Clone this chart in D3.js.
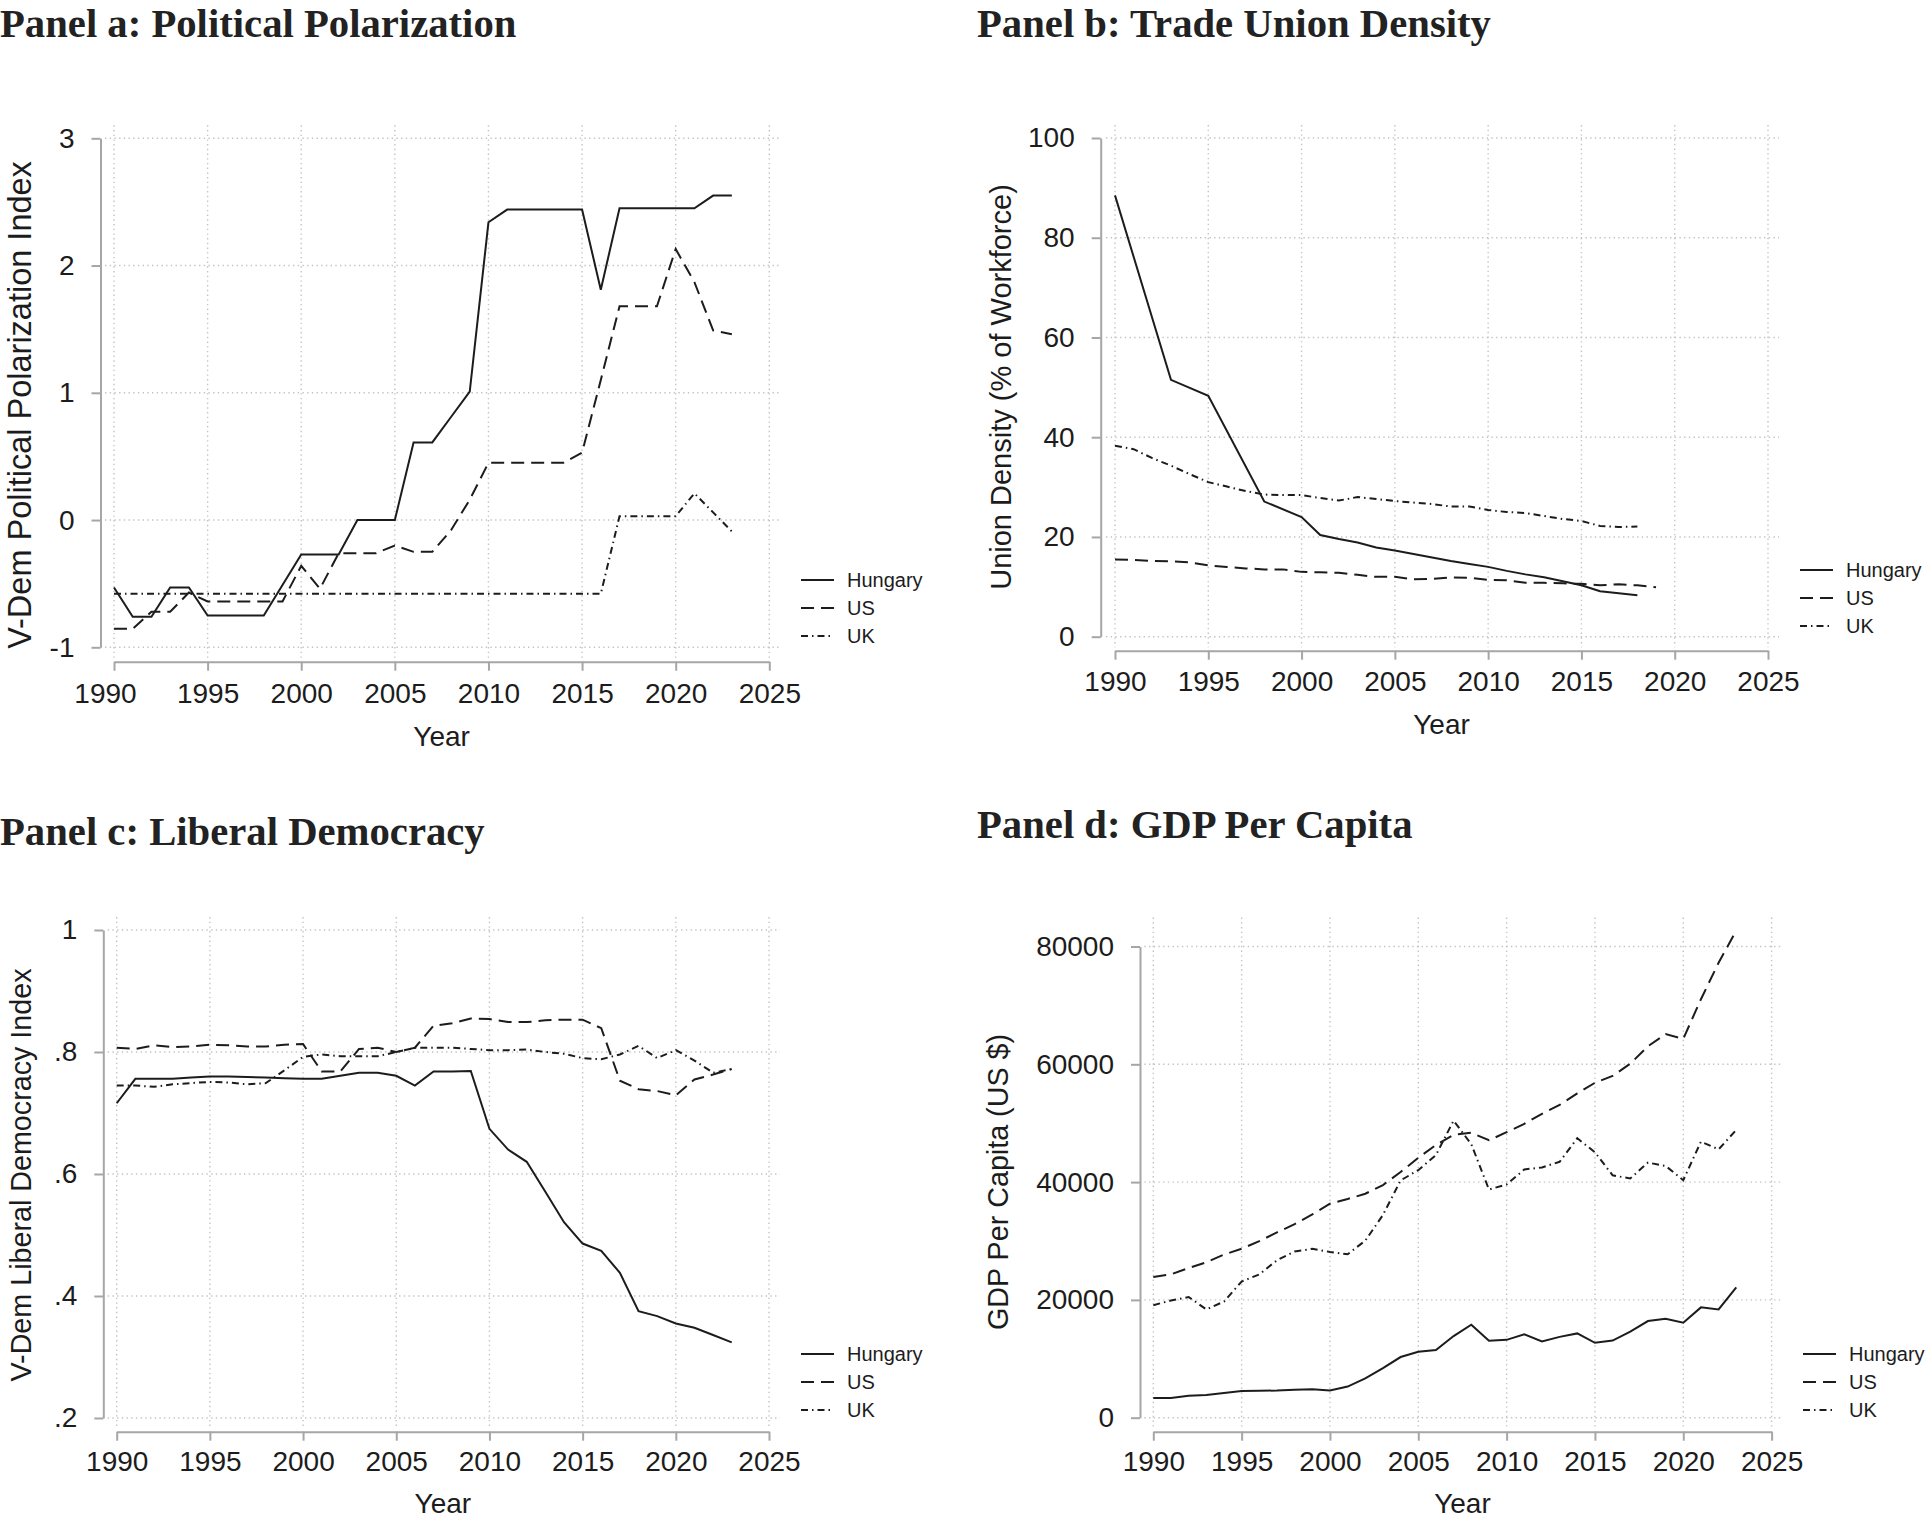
<!DOCTYPE html>
<html><head><meta charset="utf-8">
<script src="https://cdn.jsdelivr.net/npm/d3@7"></script>
<style>body{margin:0;background:#fff}svg{display:block}</style>
</head><body>
<svg id="c" width="1925" height="1521"></svg>
<script>
// ---------------- DATA ----------------
const years = [1990,1991,1992,1993,1994,1995,1996,1997,1998,1999,2000,2001,2002,2003,2004,2005,2006,2007,2008,2009,2010,2011,2012,2013,2014,2015,2016,2017,2018,2019,2020,2021,2022,2023];
const xTickValues = [1990,1995,2000,2005,2010,2015,2020,2025];
const xTickLabels = ["1990","1995","2000","2005","2010","2015","2020","2025"];
const seriesNames = ["Hungary","US","UK"];

// Panel a: V-Dem political polarization
const polHungary = [-0.53,-0.76,-0.76,-0.53,-0.53,-0.75,-0.75,-0.75,-0.75,-0.51,-0.27,-0.27,-0.27,0.00,0.00,0.00,0.61,0.61,0.81,1.01,2.34,2.44,2.44,2.44,2.44,2.44,1.81,2.45,2.45,2.45,2.45,2.45,2.55,2.55];
const polUS = [-0.855,-0.855,-0.72,-0.72,-0.57,-0.64,-0.64,-0.64,-0.64,-0.64,-0.36,-0.54,-0.26,-0.26,-0.26,-0.20,-0.25,-0.25,-0.08,0.16,0.45,0.45,0.45,0.45,0.45,0.53,1.10,1.68,1.68,1.68,2.13,1.87,1.49,1.46];
const polUK = [-0.58,-0.58,-0.58,-0.58,-0.58,-0.58,-0.58,-0.58,-0.58,-0.58,-0.58,-0.58,-0.58,-0.58,-0.58,-0.58,-0.58,-0.58,-0.58,-0.58,-0.58,-0.58,-0.58,-0.58,-0.58,-0.58,-0.58,0.03,0.03,0.03,0.03,0.21,0.06,-0.09];
const polTicks = [-1,0,1,2,3];
const polTickLabels = ["-1","0","1","2","3"];

// Panel b: Trade union density
const unionHungaryYears = [1990,1993,1995,1998,2000,2001,2002,2003,2004,2005,2006,2007,2008,2009,2010,2011,2012,2013,2014,2015,2016,2017,2018];
const unionHungary = [88.5,51.5,48.3,27.1,24.0,20.4,19.6,18.9,17.9,17.3,16.6,15.9,15.2,14.6,14.0,13.2,12.5,11.9,11.1,10.3,9.1,8.7,8.3];
const unionUSYears = [1990,1991,1992,1993,1994,1995,1996,1997,1998,1999,2000,2001,2002,2003,2004,2005,2006,2007,2008,2009,2010,2011,2012,2013,2014,2015,2016,2017,2018,2019];
const unionUS = [15.5,15.4,15.2,15.1,14.9,14.3,14.0,13.7,13.5,13.5,13.0,12.9,12.8,12.4,12.0,12.0,11.5,11.6,11.9,11.8,11.4,11.3,10.8,10.8,10.7,10.6,10.3,10.5,10.3,9.9];
const unionUKYears = [1990,1991,1992,1993,1994,1995,1996,1997,1998,1999,2000,2001,2002,2003,2004,2005,2006,2007,2008,2009,2010,2011,2012,2013,2014,2015,2016,2017,2018];
const unionUK = [38.3,37.6,35.8,34.3,32.6,31.0,30.1,29.2,28.5,28.4,28.4,27.8,27.3,28.0,27.6,27.2,26.9,26.6,26.1,26.1,25.4,25.0,24.8,24.2,23.6,23.2,22.2,22.0,22.1];
const unionTicks = [0,20,40,60,80,100];
const unionTickLabels = ["0","20","40","60","80","100"];

// Panel c: V-Dem liberal democracy
const ldHungary = [0.716,0.756,0.756,0.756,0.758,0.760,0.760,0.759,0.758,0.757,0.756,0.756,0.761,0.766,0.766,0.761,0.745,0.768,0.768,0.769,0.674,0.640,0.620,0.571,0.521,0.486,0.474,0.438,0.375,0.367,0.355,0.348,0.336,0.324];
const ldUS = [0.807,0.805,0.811,0.808,0.809,0.812,0.811,0.809,0.809,0.812,0.813,0.768,0.768,0.805,0.807,0.800,0.807,0.843,0.847,0.855,0.854,0.849,0.849,0.852,0.853,0.853,0.839,0.753,0.739,0.736,0.729,0.755,0.763,0.772];
const ldUK = [0.745,0.745,0.743,0.747,0.749,0.751,0.750,0.747,0.749,0.770,0.792,0.796,0.793,0.793,0.793,0.800,0.807,0.807,0.807,0.805,0.803,0.803,0.804,0.800,0.797,0.790,0.788,0.796,0.810,0.790,0.803,0.786,0.766,0.772];
const ldTicks = [0.2,0.4,0.6,0.8,1];
const ldTickLabels = [".2",".4",".6",".8","1"];

// Panel d: GDP per capita (US $)
const gdpHungary = [3350,3360,3740,3860,4200,4540,4560,4620,4750,4820,4620,5280,6670,8420,10300,11200,11490,13860,15800,13050,13220,14160,12960,13720,14310,12720,13100,14620,16410,16780,16130,18730,18390,22140];
const gdpUS = [23890,24340,25420,26390,27690,28690,29970,31460,32850,34510,36330,37130,38020,39500,41710,44120,46300,48050,48380,47100,48470,49900,51600,53100,55050,56860,58020,60110,63060,65120,64320,71050,77250,82700];
const gdpUK = [19100,19900,20490,18390,19710,23120,24330,26730,28210,28670,28150,27740,30060,34420,40290,42030,44600,50440,46430,38740,39600,42150,42490,43450,47440,45070,41150,40620,43310,42750,40320,46870,45560,48870];
const gdpTicks = [0,20000,40000,60000,80000];
const gdpTickLabels = ["0","20000","40000","60000","80000"];

// ---------------- STYLE ----------------
const INK = "#1c1c1c";
const AXIS = "#a6a6a6";
const GRID = "#c4c4c4";
const SANS = "'Liberation Sans', Arial, Helvetica, sans-serif";
const SERIF = "'Liberation Serif', 'Times New Roman', serif";
const dashes = {Hungary: null, US: "13,7", UK: "7,4,1.5,4"};

const panels = [
  { title: "Panel a: Political Polarization", titleX: 0, titleY: 37,
    ytitle: "V-Dem Political Polarization Index", ytitleX: 31, ytitleY: 405, ytitleSize: 32.5,
    yDomain: [-1,3], yTicks: polTicks, yLabels: polTickLabels,
    xr: [114,769.3], yr: [647.3,138.3], axisX: 100.5, axisY: 661.7, xPad: 12.5, yearY: 746,
    legX: 801, legY: 580, firstLabelShift: -9,
    series: [ {name:"Hungary", xs: years, ys: polHungary}, {name:"US", xs: years, ys: polUS}, {name:"UK", xs: years, ys: polUK} ] },
  { title: "Panel b: Trade Union Density", titleX: 977, titleY: 37,
    ytitle: "Union Density (% of Workforce)", ytitleX: 1011, ytitleY: 387, ytitleSize: 29,
    yDomain: [0,100], yTicks: unionTicks, yLabels: unionTickLabels,
    xr: [1115,1768], yr: [636.7,138], axisX: 1100.7, axisY: 650.7, xPad: 11, yearY: 734,
    legX: 1800, legY: 570, firstLabelShift: 0,
    series: [ {name:"Hungary", xs: unionHungaryYears, ys: unionHungary}, {name:"US", xs: unionUSYears, ys: unionUS}, {name:"UK", xs: unionUKYears, ys: unionUK} ] },
  { title: "Panel c: Liberal Democracy", titleX: 0, titleY: 845,
    ytitle: "V-Dem Liberal Democracy Index", ytitleX: 31, ytitleY: 1175, ytitleSize: 28.7,
    yDomain: [0.2,1], yTicks: ldTicks, yLabels: ldTickLabels,
    xr: [116.7,769], yr: [1418,930], axisX: 103.3, axisY: 1431.7, xPad: 10, yearY: 1513,
    legX: 801, legY: 1354, firstLabelShift: 0,
    series: [ {name:"Hungary", xs: years, ys: ldHungary}, {name:"US", xs: years, ys: ldUS}, {name:"UK", xs: years, ys: ldUK} ] },
  { title: "Panel d: GDP Per Capita", titleX: 977, titleY: 838,
    ytitle: "GDP Per Capita (US $)", ytitleX: 1008, ytitleY: 1182, ytitleSize: 28.7,
    yDomain: [0,80000], yTicks: gdpTicks, yLabels: gdpTickLabels,
    xr: [1153.3,1771.6], yr: [1417.7,946.5], axisX: 1140, axisY: 1431.7, xPad: 10, yearY: 1513,
    legX: 1803, legY: 1354, firstLabelShift: 0,
    series: [ {name:"Hungary", xs: years, ys: gdpHungary}, {name:"US", xs: years, ys: gdpUS}, {name:"UK", xs: years, ys: gdpUK} ] }
];

const svg = d3.select("#c");
svg.append("rect").attr("width",1925).attr("height",1521).attr("fill","#fff");

panels.forEach(p => {
  const g = svg.append("g");
  const x = d3.scaleLinear().domain([1990,2025]).range(p.xr);
  const y = d3.scaleLinear().domain(p.yDomain).range(p.yr);

  // plot region extents (gridlines)
  const pl = p.xr[0] - 9, pr = p.xr[1] + 11;
  const allMax = d3.max(p.series, s => d3.max(s.ys));
  const topVal = Math.max(allMax, p.yDomain[1]);
  const pt = y(topVal) - 13, pb = p.yr[0] + 10.5;

  // gridlines
  g.append("g").selectAll("line").data(p.yTicks).join("line")
    .attr("x1", pl).attr("x2", pr).attr("y1", d => y(d)).attr("y2", d => y(d))
    .attr("stroke", GRID).attr("stroke-width", 1.4).attr("stroke-dasharray", "1.4,3.3");
  g.append("g").selectAll("line").data(xTickValues).join("line")
    .attr("y1", pt).attr("y2", pb).attr("x1", d => x(d)).attr("x2", d => x(d))
    .attr("stroke", GRID).attr("stroke-width", 1.4).attr("stroke-dasharray", "1.4,3.3");

  // y axis
  const yAxis = d3.axisLeft(y).tickValues(p.yTicks).tickSize(9).tickSizeOuter(0).tickPadding(17)
    .tickFormat((d,i) => p.yLabels[i]);
  const ya = g.append("g").attr("transform", `translate(${p.axisX},0)`).call(yAxis);
  // x axis
  const xAxis = d3.axisBottom(x).tickValues(xTickValues).tickSize(9).tickSizeOuter(0).tickPadding(p.xPad)
    .tickFormat((d,i) => xTickLabels[i]);
  const xa = g.append("g").attr("transform", `translate(0,${p.axisY})`).call(xAxis);
  [ya, xa].forEach(a => {
    a.select(".domain").attr("stroke", AXIS).attr("stroke-width", 2);
    a.selectAll(".tick line").attr("stroke", AXIS).attr("stroke-width", 2);
    a.selectAll(".tick text").attr("fill", INK).attr("font-family", SANS).attr("font-size", 28);
  });
  xa.selectAll(".tick text").filter((d,i) => i === 0).attr("dx", p.firstLabelShift);

  // axis titles
  g.append("text").attr("x", (p.xr[0]+p.xr[1])/2).attr("y", p.yearY)
    .attr("text-anchor","middle").attr("font-family", SANS).attr("font-size", 28).attr("fill", INK).text("Year");
  g.append("text").attr("transform", `translate(${p.ytitleX},${p.ytitleY}) rotate(-90)`)
    .attr("text-anchor","middle").attr("font-family", SANS).attr("font-size", p.ytitleSize).attr("fill", INK).text(p.ytitle);

  // panel title
  g.append("text").attr("x", p.titleX).attr("y", p.titleY).attr("font-family", SERIF)
    .attr("font-weight","bold").attr("font-size", 40.7).attr("fill", "#222").text(p.title);

  // lines
  const line = d3.line().x(d => x(d[0])).y(d => y(d[1]));
  p.series.slice().reverse().forEach(s => {
    const pts = s.xs.map((v,i) => [v, s.ys[i]]);
    g.append("path").datum(pts).attr("d", line).attr("fill","none")
      .attr("stroke", INK).attr("stroke-width", 2)
      .attr("stroke-dasharray", dashes[s.name]);
  });

  // legend
  seriesNames.forEach((n,i) => {
    const ly = p.legY + i*28;
    g.append("line").attr("x1", p.legX).attr("x2", p.legX+33).attr("y1", ly).attr("y2", ly)
      .attr("stroke", INK).attr("stroke-width", 2).attr("stroke-dasharray", dashes[n]);
    g.append("text").attr("x", p.legX+46).attr("y", ly).attr("dy","0.35em")
      .attr("font-family", SANS).attr("font-size", 20).attr("fill", INK).text(n);
  });
});
</script>
</body></html>
